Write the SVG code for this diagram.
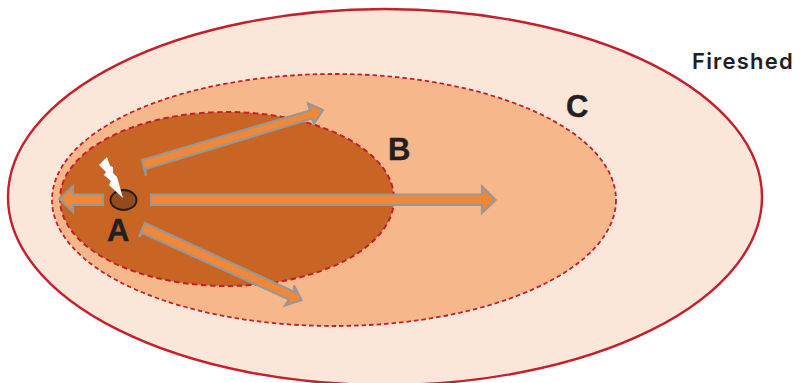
<svg xmlns="http://www.w3.org/2000/svg" width="801" height="383" viewBox="0 0 801 383">
<style>
.zone{stroke:#c41f2b}
.arrow{fill:#f0883a;stroke:#979797;stroke-width:2.2;stroke-linejoin:miter}
.big{font-family:"Liberation Sans",Arial,sans-serif;font-weight:700;font-size:31px;fill:#231f20;stroke:#231f20;stroke-width:0.4}
</style>
<rect width="801" height="383" fill="#fff"/>
<g id="fireshed"><ellipse cx="385" cy="197" rx="377" ry="188" fill="#fbe6da" stroke="#c41f2b" stroke-width="2.4"/>
<text x="692" y="68.500" font-family="Inter,'Liberation Sans',Arial,sans-serif" font-weight="600" font-size="22" letter-spacing="1.2" fill="#231f20">Fireshed</text></g>
<g id="zone-c"><ellipse cx="334" cy="200" rx="282" ry="126" fill="#f6b88a" class="zone" stroke-width="1.8" stroke-dasharray="4.500 3"/>
<text x="566" y="117" class="big">C</text></g>
<g id="zone-b"><ellipse cx="227" cy="199" rx="167" ry="87" fill="#c96524" class="zone" stroke-width="2" stroke-dasharray="5.500 3.500"/>
<text x="388" y="160" class="big">B</text></g>
<g id="connectors">
<polygon class="arrow" points="103,194.500 73,194.500 73,186 59.500,199 73,212 73,205 103,205"/>
<polygon class="arrow" points="151,194.500 482,194.500 482,186.500 495.500,200 482,213 482,205 151,205"/>
<polygon class="arrow" points="142,160 310,110.500 308,103.500 323,110 314,123.500 312,118.500 145.500,169 146,176"/>
<polygon class="arrow" points="145,223 294.500,292 294,285.500 301.500,300 285,305.500 289,299.500 142,233 139,237"/>
</g>
<g id="zone-a"><ellipse cx="123.500" cy="200" rx="13" ry="10" fill="#934a1d" stroke="#231f20" stroke-width="2"/>
<polygon points="107,157 99,165 106,172 104,175 111,181 109,185 123,198 117,177 113,173 113,167 110,166" fill="#fff"/>
<text x="107" y="241" class="big">A</text></g>
</svg>
